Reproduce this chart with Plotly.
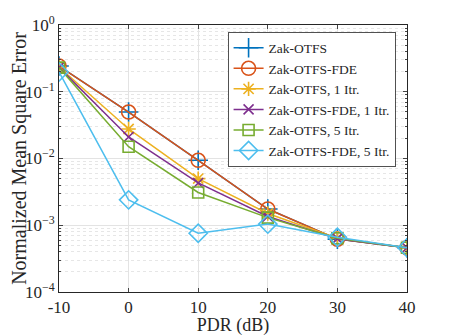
import plotly.graph_objects as go

pdr = [-10, 0, 10, 20, 30, 40]
pdr_labels = ["-10", "0", "10", "20", "30", "40"]

names = ["Zak-OTFS", "Zak-OTFS-FDE", "Zak-OTFS, 1 Itr.", "Zak-OTFS-FDE, 1 Itr.",
         "Zak-OTFS, 5 Itr.", "Zak-OTFS-FDE, 5 Itr."]

zak = [0.243, 0.0497, 0.0094, 0.00175, 0.00062, 0.00046]
zak_fde = [0.243, 0.0497, 0.0094, 0.00175, 0.00062, 0.00046]
zak_1 = [0.235, 0.0277, 0.0050, 0.00150, 0.00064, 0.00046]
zak_fde_1 = [0.232, 0.0210, 0.0043, 0.00135, 0.00063, 0.00046]
zak_5 = [0.230, 0.0150, 0.0031, 0.00130, 0.00064, 0.00046]
zak_fde_5 = [0.198, 0.0024, 0.00076, 0.00104, 0.00066, 0.00046]

series = [zak, zak_fde, zak_1, zak_fde_1, zak_5, zak_fde_5]
colors = ["#0072BD", "#D95319", "#EDB120", "#7E2F8E", "#77AC30", "#4DBEEE"]
symbols = ["cross-thin-open", "circle-open", "asterisk-open", "x-thin-open",
           "square-open", "diamond-open"]
sizes = [14, 14, 12, 10, 11, 14]

font_name = "Liberation Serif"

fig = go.Figure()
for nm, ys, c, s, sz in zip(names, series, colors, symbols, sizes):
    fig.add_trace(go.Scatter(
        x=pdr, y=ys, name=nm, mode="lines+markers",
        line=dict(color=c, width=1.5),
        marker=dict(symbol=s, size=sz, color=c, line=dict(color=c, width=1.6))))

ytv = [1e-4, 1e-3, 1e-2, 1e-1, 1]
ytt = ["10<sup>−4</sup>", "10<sup>−3</sup>", "10<sup>−2</sup>", "10<sup>−1</sup>", "10<sup>0</sup>"]

# page body has an 8px default margin, so the figure is sized to fit the window
fig.update_layout(
    width=441, height=328,
    margin=dict(l=51, r=42, t=17, b=44),
    paper_bgcolor="white", plot_bgcolor="white",
    font=dict(family=font_name, size=17, color="#262626"),
    showlegend=True,
    legend=dict(x=0.485, y=0.975, xanchor="left", yanchor="top",
                bgcolor="white", bordercolor="#262626", borderwidth=0.8,
                font=dict(size=13.5, color="#262626"),
                tracegroupgap=0, itemwidth=30),
    xaxis=dict(
        title=dict(text="PDR (dB)", standoff=5, font=dict(size=18)),
        automargin=False,
        range=[-10, 40], tickvals=pdr, ticktext=pdr_labels, ticks="inside", ticklen=4,
        showline=True, linecolor="#262626", mirror="ticks", linewidth=0.8,
        showgrid=True, gridcolor="#e3e3e3", zeroline=False),
    yaxis=dict(
        title=dict(text="Normalized Mean Square Error", standoff=0, font=dict(size=20)),
        automargin=False,
        type="log", range=[-4, 0], tickvals=ytv, ticktext=ytt,
        ticks="inside", ticklen=4,
        showline=True, linecolor="#262626", mirror="ticks", linewidth=0.8,
        showgrid=True, gridcolor="#e3e3e3", zeroline=False,
        minor=dict(showgrid=True, gridcolor="#e6e6e6", griddash="dot",
                   ticks="inside", ticklen=2, tickvals=[
                       m * 10 ** e for e in range(-4, 0) for m in range(2, 10)])),
)

fig.write_html("out.html")
